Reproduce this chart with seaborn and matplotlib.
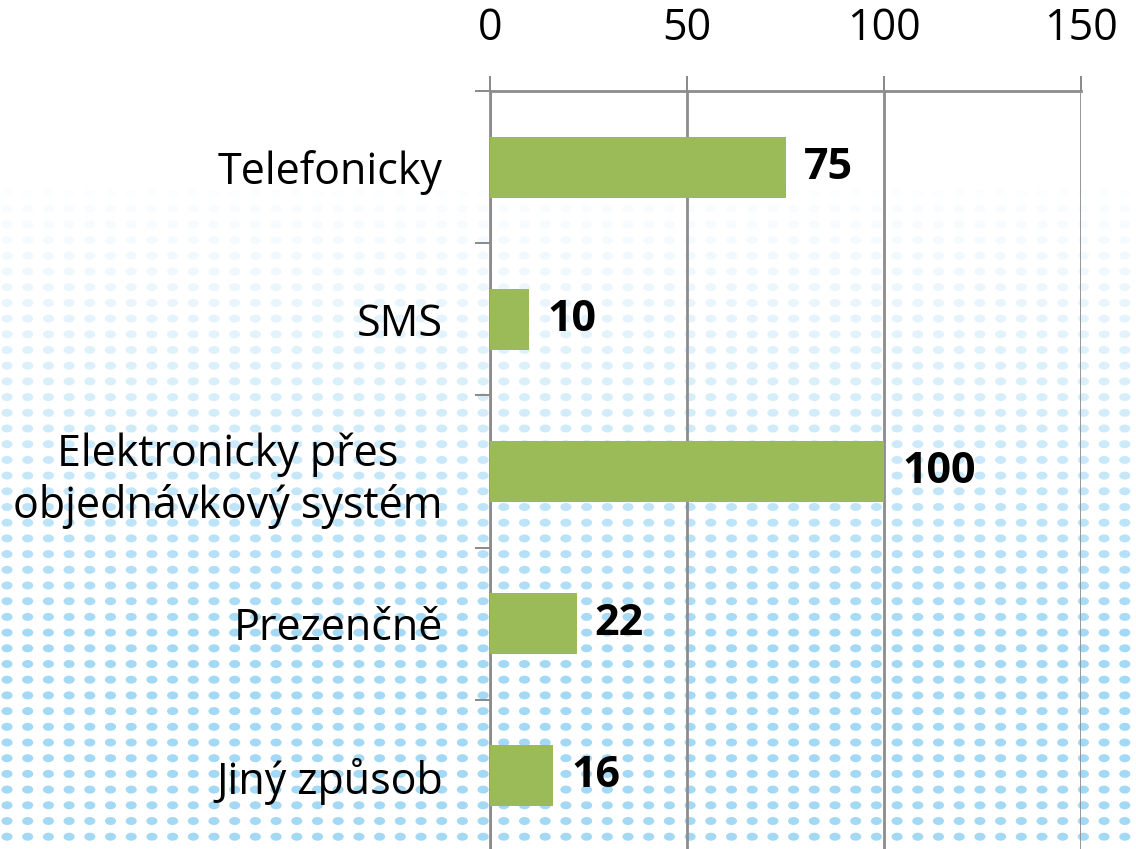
import numpy as np
import pandas as pd
import matplotlib
matplotlib.use("Agg")
import matplotlib.pyplot as plt
from matplotlib.path import Path
import seaborn as sns

# ---------------------------
# Data
# ---------------------------
categories = ["Telefonicky", "SMS", "Elektronicky přes\nobjednávkový systém",
              "Prezenčně", "Jiný způsob"]
values = [75, 10, 100, 22, 16]
x_ticks = [0, 50, 100, 150]

df = pd.DataFrame({"kategorie": categories, "pocet": values})

sns.set_theme(style="white")
plt.rcParams["font.family"] = ["Open Sans", "DejaVu Sans"]

GRAY = "#8c8c8c"
GREEN = "#9bbb59"
FS = 31

fig = plt.figure(figsize=(11.36, 8.49), dpi=100)
fig.patch.set_facecolor("white")

# ---------------------------
# Background dot pattern (decoration)
# ---------------------------
bg = fig.add_axes([0, 0, 1, 1], zorder=0)
bg.set_xlim(0, 1136)
bg.set_ylim(849, 0)
bg.axis("off")
circ = Path.unit_circle()
ellipse = Path(circ.vertices * np.array([1.0, 0.72]), circ.codes)
xs = np.arange(7, 1140, 20.7)
ys = np.arange(193, 852, 15.7)
gx, gy = np.meshgrid(xs, ys)
t = np.clip((gy - 175) / (640 - 175), 0, 1) ** 1.1
cols = np.zeros((gx.size, 4))
cols[:, 0] = 0.64
cols[:, 1] = 0.85
cols[:, 2] = 0.96
cols[:, 3] = t.ravel()
bg.scatter(gx.ravel(), gy.ravel(), s=64, marker=ellipse, c=cols, linewidths=0)

# ---------------------------
# Bar chart
# ---------------------------
ax = fig.add_axes([490 / 1136, 1 - 852 / 849, 591 / 1136, 761 / 849], zorder=1)
ax.patch.set_alpha(0)

sns.barplot(data=df, y="kategorie", x="pocet", color=GREEN, width=0.4,
            saturation=1, linewidth=0, ax=ax, zorder=3)

ax.set_xlim(0, 150)
ax.set_ylim(4.5, -0.5)
ax.set_xticks(x_ticks)
ax.xaxis.tick_top()
ax.set_xlabel("")
ax.set_ylabel("")

ax.grid(axis="x", color=GRAY, linewidth=2, zorder=1)
ax.grid(axis="y", visible=False)
for side in ["bottom", "right"]:
    ax.spines[side].set_visible(False)
for side in ["top", "left"]:
    ax.spines[side].set_color(GRAY)
    ax.spines[side].set_linewidth(2)

ax.tick_params(axis="x", top=True, direction="out", length=10.8, width=1.44,
               color=GRAY, pad=18, labelsize=FS, labelcolor="black")
ax.tick_params(axis="y", which="major", left=True, length=0, pad=34,
               labelsize=FS, labelcolor="black")
ax.set_yticks(np.arange(-0.5, 5, 1), minor=True)
ax.tick_params(axis="y", which="minor", left=True, direction="out",
               length=10.8, width=1.44, color=GRAY)
for lbl in ax.get_yticklabels():
    lbl.set_multialignment("center")

ax.bar_label(ax.containers[0], padding=13, fontsize=FS, fontweight="bold",
             color="black")

fig.savefig("out.png", dpi=100)
